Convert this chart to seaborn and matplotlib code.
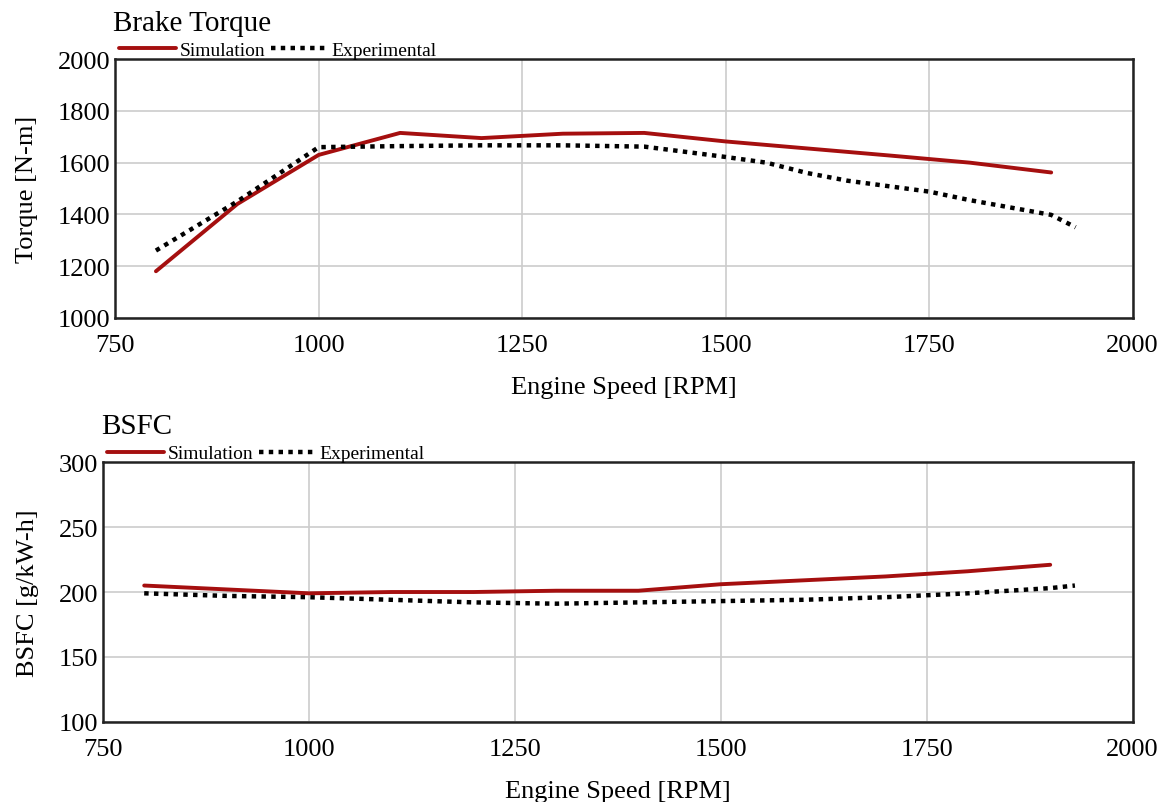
import numpy as np
import pandas as pd
import matplotlib
matplotlib.use("Agg")
import matplotlib.pyplot as plt
import seaborn as sns

# Brake torque
torque_sim_rpm = [800, 900, 1000, 1100, 1200, 1300, 1400, 1500, 1600, 1700, 1800, 1900]
torque_sim = [1180, 1440, 1630, 1715, 1695, 1712, 1715, 1682, 1655, 1628, 1600, 1562]
torque_exp_rpm = [800, 900, 1000, 1100, 1200, 1300, 1400, 1500, 1550, 1600, 1650, 1750, 1800, 1900, 1930]
torque_exp = [1260, 1450, 1660, 1664, 1667, 1667, 1662, 1622, 1600, 1560, 1530, 1488, 1455, 1398, 1350]

# BSFC
bsfc_sim_rpm = [800, 900, 1000, 1100, 1200, 1300, 1400, 1500, 1600, 1700, 1800, 1900]
bsfc_sim = [205, 202, 199, 200, 200, 201, 201, 206, 209, 212, 216, 221]
bsfc_exp_rpm = [800, 900, 1000, 1100, 1200, 1300, 1400, 1500, 1600, 1700, 1800, 1900, 1930]
bsfc_exp = [199, 197, 196, 194, 192, 191, 192, 193, 194, 196, 199, 203, 205]

x_ticks = [750, 1000, 1250, 1500, 1750, 2000]
torque_ticks = [1000, 1200, 1400, 1600, 1800, 2000]
bsfc_ticks = [100, 150, 200, 250, 300]

sns.set_style("whitegrid")
plt.rcParams["font.family"] = ["Liberation Serif", "DejaVu Serif"]
plt.rcParams["text.color"] = "black"
plt.rcParams["axes.labelcolor"] = "black"
plt.rcParams["xtick.color"] = "black"
plt.rcParams["ytick.color"] = "black"

RED = "#a50f0f"


def draw(ax, sim_x, sim_y, exp_x, exp_y, yticks, ylabel, title):
    sim = pd.DataFrame({"rpm": sim_x, "val": sim_y})
    exp = pd.DataFrame({"rpm": exp_x, "val": exp_y})
    sns.lineplot(data=sim, x="rpm", y="val", ax=ax, color=RED, lw=2.8, label="Simulation")
    sns.lineplot(data=exp, x="rpm", y="val", ax=ax, color="black", lw=3.2,
                 linestyle=(0, (1.0, 1.2)), label="Experimental")
    ax.set_xlim(x_ticks[0], x_ticks[-1])
    ax.set_ylim(yticks[0], yticks[-1])
    ax.set_xticks(x_ticks)
    ax.set_yticks(yticks)
    ax.grid(True, color="#cccccc", lw=1.2)
    for s in ax.spines.values():
        s.set_color("#222222")
        s.set_linewidth(1.8)
        s.set_visible(True)
    ax.tick_params(axis="y", direction="in", length=8, width=1.5, color="#222222", labelsize=19)
    ax.tick_params(axis="x", length=0, labelsize=19, pad=12)
    ax.set_xlabel("Engine Speed [RPM]", fontsize=19, labelpad=14)
    ax.set_ylabel(ylabel, fontsize=19, labelpad=14)
    ax.set_title(title, fontsize=21, loc="left", x=-0.002, y=1.08)
    ax.legend(loc="lower left", bbox_to_anchor=(0.004, 1.0), ncol=2, frameon=False,
              fontsize=14, handlelength=2.9, handletextpad=0.2, columnspacing=0.3,
              borderaxespad=0, borderpad=0)


fig = plt.figure(figsize=(11.64, 8.03), dpi=100)
ax1 = fig.add_axes([0.099, 0.603, 0.874, 0.322])
ax2 = fig.add_axes([0.0885, 0.1, 0.8845, 0.323])

draw(ax1, torque_sim_rpm, torque_sim, torque_exp_rpm, torque_exp, torque_ticks, "Torque [N-m]", "Brake Torque")
draw(ax2, bsfc_sim_rpm, bsfc_sim, bsfc_exp_rpm, bsfc_exp, bsfc_ticks, "BSFC [g/kW-h]", "BSFC")

fig.savefig("out.png", dpi=100)
